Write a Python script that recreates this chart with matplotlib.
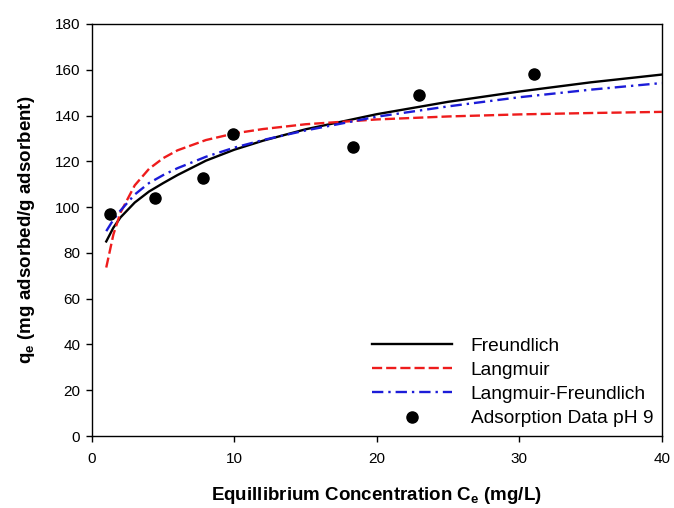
import matplotlib
matplotlib.use("Agg")
import matplotlib.pyplot as plt

plt.rcParams['font.family'] = ['Liberation Sans', 'DejaVu Sans']

# adsorption data, pH 9
ce_data = [1.26, 4.42, 7.77, 9.87, 18.34, 22.97, 31.04]
qe_data = [97.0, 103.9, 112.9, 131.9, 126.2, 149.1, 158.2]

# model curves
ce_fit = [1, 1.5, 2, 3, 4, 5, 6, 8, 10, 12, 15, 20, 25, 30, 35, 40]
qe_freundlich = [85.0, 91.0, 95.5, 102.0, 106.8, 110.5, 114.0, 120.3, 125.1,
                 129.0, 134.0, 140.6, 146.0, 150.5, 154.5, 157.9]
qe_langmuir = [73.6, 88.0, 97.6, 109.5, 116.7, 121.4, 124.8, 129.3, 132.2,
               134.1, 136.2, 138.3, 139.6, 140.5, 141.1, 141.6]
qe_lang_freund = [89.5, 94.5, 98.5, 105.5, 110.5, 114.0, 117.0, 122.0, 126.0,
                  129.3, 133.5, 139.5, 144.0, 148.0, 151.3, 154.2]

fig = plt.figure(figsize=(6.74, 5.08), dpi=100)
ax = fig.add_axes([0.1365, 0.1417, 0.8455, 0.8111])

ax.plot(ce_fit, qe_freundlich, color='black', lw=1.7, label='Freundlich')
ax.plot(ce_fit, qe_langmuir, color='#ee1c1c', lw=1.7, dashes=(4.3, 1.7),
        label='Langmuir')
ax.plot(ce_fit, qe_lang_freund, color='#1c1cd8', lw=1.7,
        dashes=(4.8, 2.1, 1, 2.1), label='Langmuir-Freundlich')
ax.plot(ce_data, qe_data, 'o', color='black', ms=8, ls='none',
        label='Adsorption Data pH 9')

ax.set_xlim(0, 40)
ax.set_ylim(0, 180)
ax.set_xticks(range(0, 41, 10))
ax.set_yticks(range(0, 181, 20))
ax.tick_params(direction='out', length=4.5, width=1, labelsize=11,
               top=False, right=False)
ax.tick_params(axis='x', pad=7)
ax.tick_params(axis='y', pad=4)
for s in ax.spines.values():
    s.set_linewidth(1)

ax.set_xlabel('Equillibrium Concentration C$_\\mathregular{e}$ (mg/L)',
              fontsize=13.5, fontweight='bold', labelpad=14)
ax.set_ylabel('q$_\\mathregular{e}$ (mg adsorbed/g adsorbent)',
              fontsize=13.5, fontweight='bold', labelpad=13)

ax.legend(loc='upper left', bbox_to_anchor=(0.491, 0.24), frameon=False,
          fontsize=13.8, handlelength=4.2, handletextpad=0.95, borderpad=0,
          labelspacing=0.36, borderaxespad=0)

fig.savefig('out.png', dpi=100)
